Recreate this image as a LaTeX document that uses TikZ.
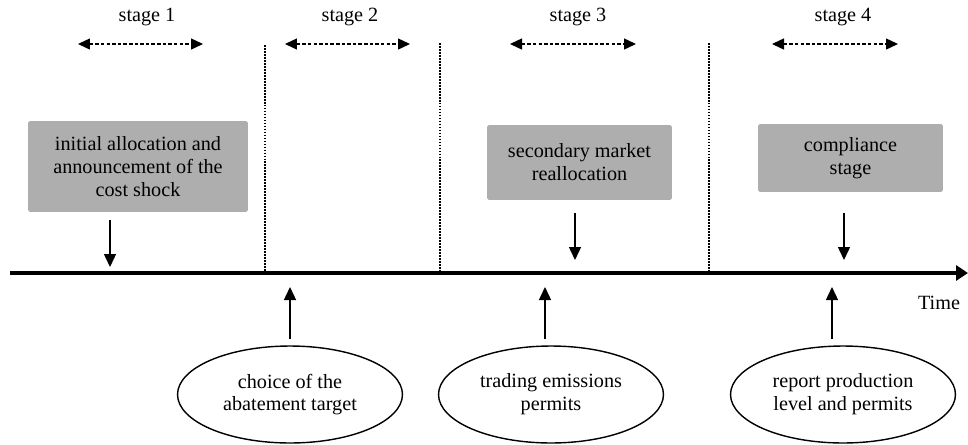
\documentclass[tikz,border=0pt]{standalone}
\usepackage{fontspec}
\setmainfont{Liberation Serif}
\usetikzlibrary{positioning, arrows.meta, shapes.geometric, calc}
\definecolor{boxgray}{RGB}{174,174,174}

\begin{document}
\begin{tikzpicture}[
	x=0.02cm, y=-0.02cm,
	font=\fontsize{11.5}{13}\selectfont,
	event/.style={rectangle, fill=boxgray, rounded corners=1pt, align=center, inner sep=0pt},
	action/.style={ellipse, draw, line width=0.8pt, minimum width=4.5cm, minimum height=1.94cm, align=center, inner sep=0pt},
	arrow/.style={-{Triangle[length=0.26cm, width=0.24cm]}, line width=0.8pt},
	span/.style={{Triangle[length=0.24cm, width=0.22cm]}-{Triangle[length=0.24cm, width=0.22cm]}, line width=0.8pt, dash pattern=on 2pt off 1.2pt},
	divider/.style={line width=0.6pt, dash pattern=on 1pt off 0.7pt},
	timeline/.style={-{Triangle[length=0.24cm, width=0.3cm]}, line width=2.6pt}
	]
	\useasboundingbox (0,0) rectangle (968,444);
	
	% Time axis
	\coordinate (tstart) at (10,273);
	\coordinate (tend) at (968,273);
	\draw[timeline] (tstart) -- (tend);
	\node (time) at (939,303) {Time};
	
	% Stage borders
	\coordinate (v1) at (265,45);
	\coordinate (v2) at (440,43);
	\coordinate (v3) at (709,43);
	\draw[divider] (v1) -- (v1 |- tstart);
	\draw[divider] (v2) -- (v2 |- tstart);
	\draw[divider] (v3) -- (v3 |- tstart);
	
	% Stages
	\node (stage1) at (147,17) {stage 1};
	\node (stage2) at (350,17) {stage 2};
	\node (stage3) at (578,17) {stage 3};
	\node (stage4) at (843,17) {stage 4};
	\coordinate (s1a) at (78,44);  \coordinate (s1b) at (203,44);
	\coordinate (s2a) at (285,44); \coordinate (s2b) at (410,44);
	\coordinate (s3a) at (510,44); \coordinate (s3b) at (636,44);
	\coordinate (s4a) at (772,44); \coordinate (s4b) at (898,44);
	\draw[span] (s1a) -- (s1b);
	\draw[span] (s2a) -- (s2b);
	\draw[span] (s3a) -- (s3b);
	\draw[span] (s4a) -- (s4b);
	
	% Events
	\node[event, minimum width=4.4cm, minimum height=1.82cm] (allocation) at (138,166.5) {initial allocation and\\announcement of the\\cost shock};
	\node[event, minimum width=3.7cm, minimum height=1.5cm] (market) at (579.5,162.5) {secondary market\\reallocation};
	\node[event, minimum width=3.7cm, minimum height=1.36cm] (compliance) at (850.5,158) {compliance\\stage};
	
	% Actions
	\node[action] (abatement) at (290,394.5) {choice of the\\abatement target};
	\node[action] (trading) at (551,394.5) {trading emissions\\permits};
	\node[action] (report) at (843,394.5) {report production\\level and permits};
	
	% Arrows
	\coordinate (d1) at (110,267);
	\coordinate (d3) at (575,260);
	\coordinate (d4) at (844,260);
	\draw[arrow] ($(allocation.south -| d1)+(0,8)$) -- (d1);
	\draw[arrow] ($(market.south -| d3)+(0,13)$) -- (d3);
	\draw[arrow] ($(compliance.south -| d4)+(0,21)$) -- (d4);
	\coordinate (u1) at (290,287);
	\coordinate (u2) at (545,287);
	\coordinate (u3) at (832,287);
	\draw[arrow] ($(u1 |- abatement.north)+(0,-6)$) -- (u1);
	\draw[arrow] ($(u2 |- trading.north)+(0,-6)$) -- (u2);
	\draw[arrow] ($(u3 |- report.north)+(0,-6)$) -- (u3);
	
\end{tikzpicture}
\end{document}
